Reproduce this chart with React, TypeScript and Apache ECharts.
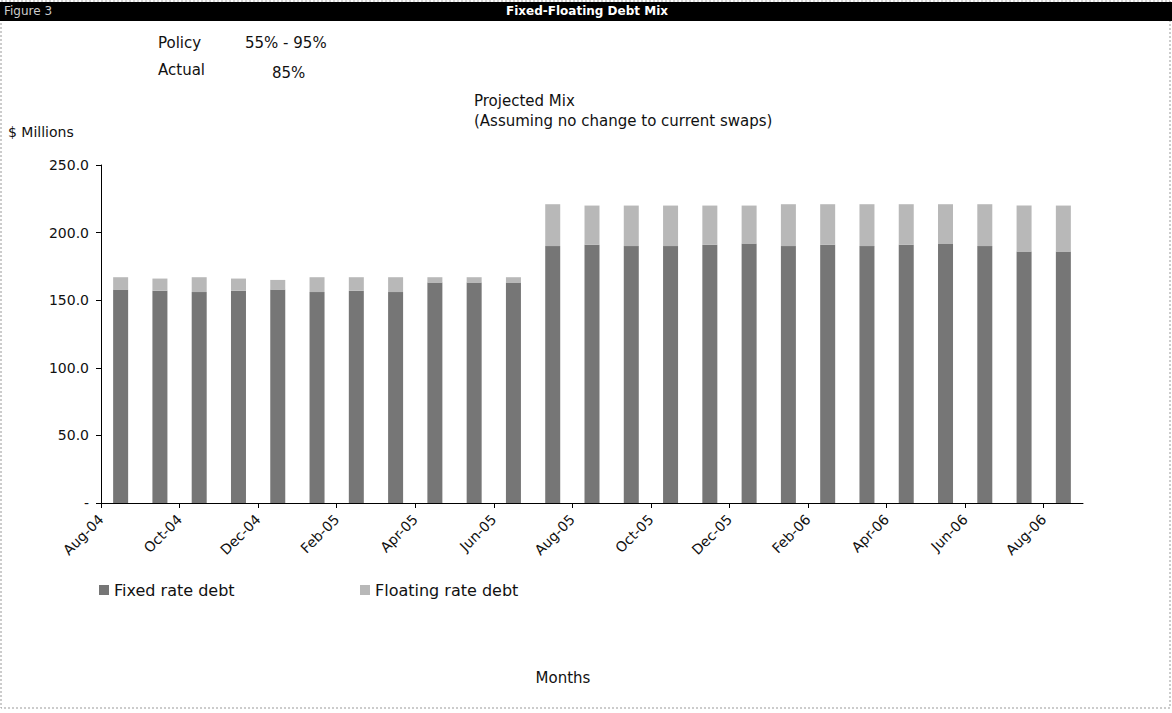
import React, { useEffect, useRef } from "react";
import * as echarts from "echarts";

const months = [
  "Aug-04", "Sep-04", "Oct-04", "Nov-04", "Dec-04", "Jan-05", "Feb-05", "Mar-05", "Apr-05",
  "May-05", "Jun-05", "Jul-05", "Aug-05", "Sep-05", "Oct-05", "Nov-05", "Dec-05", "Jan-06",
  "Feb-06", "Mar-06", "Apr-06", "May-06", "Jun-06", "Jul-06", "Aug-06",
];
const fixedDebt = [
  158, 157, 156, 157, 158, 156, 157, 156, 163, 163, 163,
  190, 191, 190, 190, 191, 192, 190, 191, 190, 191, 192, 190, 186, 186,
];
const floatingDebt = [
  9, 9, 11, 9, 7, 11, 10, 11, 4, 4, 4,
  31, 29, 30, 30, 29, 28, 31, 30, 31, 30, 29, 31, 34, 34,
];
const yTicks = [0, 50, 100, 150, 200, 250];

const FONT = "DejaVu Sans";

export default function App() {
  const ref = useRef<HTMLDivElement>(null);
  useEffect(() => {
    const chart = echarts.init(ref.current!, null, { renderer: "svg" });
    const txt = (text: string, x: number, y: number, extra: any = {}) => ({
      type: "text",
      x,
      y,
      style: {
        text,
        fontFamily: FONT,
        fontSize: 15,
        fill: "#111",
        textVerticalAlign: "middle",
        ...extra,
      },
    });
    const legendText = { fontFamily: FONT, fontSize: 16, color: "#111" };
    chart.setOption({
      animation: false,
      backgroundColor: "#fff",
      grid: { left: 101, right: 89, top: 165, bottom: 210 },
      legend: [
        {
          data: ["Fixed rate debt"],
          left: 94,
          top: 577,
          itemWidth: 10,
          itemHeight: 10,
          itemGap: 4,
          textStyle: legendText,
          icon: "rect",
        },
        {
          data: ["Floating rate debt"],
          left: 355,
          top: 577,
          itemWidth: 10,
          itemHeight: 10,
          textStyle: legendText,
          icon: "rect",
        },
      ],
      xAxis: [
        {
          type: "category",
          data: months,
          boundaryGap: true,
          axisLine: { lineStyle: { color: "#000", width: 1 } },
          axisTick: { show: false },
          axisLabel: { show: false },
        },
        {
          type: "category",
          data: [...months, ""],
          boundaryGap: false,
          position: "bottom",
          axisLine: { show: false },
          axisTick: { show: true, interval: 1, length: 5, lineStyle: { color: "#000" } },
          axisLabel: {
            interval: 1,
            rotate: 45,
            margin: 14,
            fontFamily: FONT,
            fontSize: 14,
            color: "#111",
          },
        },
      ],
      yAxis: {
        type: "value",
        min: 0,
        max: 250,
        interval: 50,
        axisLine: { show: true, lineStyle: { color: "#000" } },
        axisTick: { show: true, length: 5, lineStyle: { color: "#000" } },
        splitLine: { show: false },
        axisLabel: {
          margin: 12,
          fontFamily: FONT,
          fontSize: 14,
          color: "#111",
          formatter: (v: number) => (yTicks.includes(v) ? (v === 0 ? "-" : v.toFixed(1)) : ""),
        },
      },
      series: [
        {
          name: "Fixed rate debt",
          type: "bar",
          stack: "debt",
          xAxisIndex: 0,
          barWidth: 15,
          data: fixedDebt,
          itemStyle: { color: "#767676" },
        },
        {
          name: "Floating rate debt",
          type: "bar",
          stack: "debt",
          xAxisIndex: 0,
          barWidth: 15,
          data: floatingDebt,
          itemStyle: { color: "#b8b8b8" },
        },
      ],
      graphic: [
        {
          type: "rect",
          shape: { x: 1, y: 1, width: 1169, height: 707 },
          style: { fill: "none", stroke: "#999", lineWidth: 1, lineDash: [2, 2] },
        },
        {
          type: "rect",
          shape: { x: 0, y: 2, width: 1172, height: 19 },
          style: { fill: "#000" },
        },
        txt("Figure 3", 4, 11, { fill: "#ccc", fontSize: 12 }),
        txt("Fixed-Floating Debt Mix", 587, 11, {
          fill: "#fff",
          fontSize: 12,
          fontWeight: "bold",
          textAlign: "center",
        }),
        txt("Policy", 158, 43),
        txt("55% - 95%", 245, 43),
        txt("Actual", 158, 70),
        txt("85%", 272, 73),
        txt("Projected Mix", 474, 101),
        txt("(Assuming no change to current swaps)", 474, 121),
        txt("$ Millions", 8, 132, { fontSize: 14 }),
        txt("Months", 563, 678, { textAlign: "center" }),
      ],
    });
    return () => chart.dispose();
  }, []);
  return (
    <div
      ref={ref}
      style={{ position: "fixed", left: 0, top: 0, width: 1172, height: 713 }}
    />
  );
}
